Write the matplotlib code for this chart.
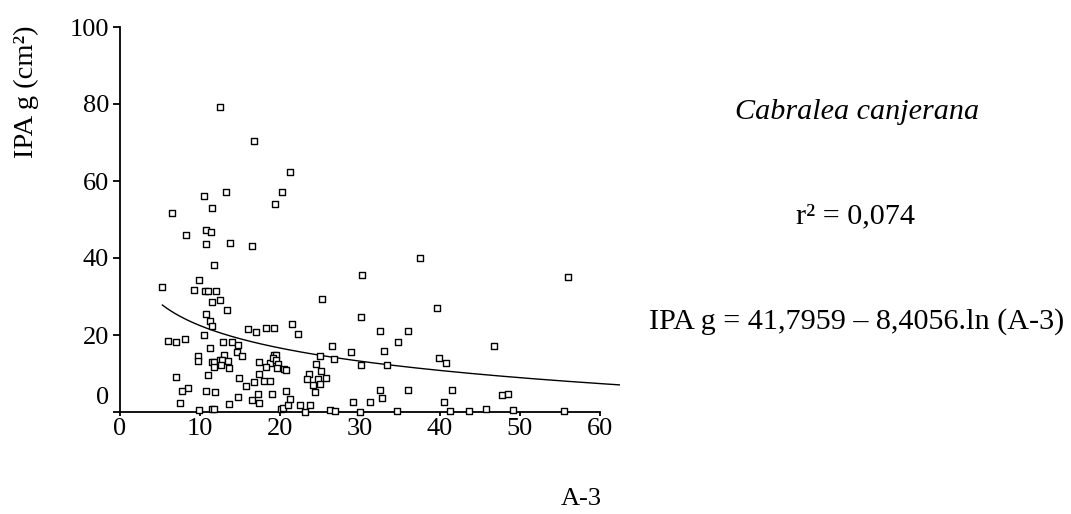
import numpy as np
import matplotlib
matplotlib.use("Agg")
import matplotlib.pyplot as plt
from matplotlib.transforms import ScaledTranslation

plt.rcParams['font.family'] = ['Liberation Serif', 'DejaVu Serif']

# data
a3 = [6.5, 11.5, 19.4, 8.25, 10.8, 11.4, 10.8, 13.75, 16.5, 11.7, 9.9, 5.3, 9.3, 10.6, 11.0, 12.0,
      12.5, 11.5, 13.4, 25.3, 10.7, 11.2, 11.5, 10.5, 16.0, 17.0, 18.2, 19.2, 21.5, 22.2, 6.0, 7.0,
      8.1, 12.9, 14.0, 14.8, 11.2, 14.6, 15.2, 9.8, 9.8, 13.0, 11.5, 11.75, 12.5, 12.8, 13.5, 11.7,
      12.6, 13.6, 17.4, 18.75, 19.2, 19.5, 19.1, 19.5, 18.2, 19.8, 19.6, 20.5, 20.8, 17.4, 14.9, 16.8,
      18.0, 18.75, 15.8, 7.0, 11.0, 8.5, 7.7, 10.8, 11.9, 7.5, 9.9, 11.5, 11.7, 13.6, 14.8, 16.5,
      17.2, 17.4, 19.0, 20.1, 20.4, 21.0, 21.3, 20.8, 22.5, 23.1, 23.75, 23.6, 23.4, 24.1, 24.4, 24.5,
      25.0, 25.1, 24.75, 25.0, 25.7, 26.5, 26.7, 26.3, 26.9, 28.9, 29.1,
      12.5, 16.7, 21.2, 10.5, 13.2, 20.3,
      37.5, 30.3, 56.0, 39.6, 30.1, 32.5, 36.0, 34.8, 46.7, 33.0, 30.1, 33.4, 39.9, 40.8, 32.5, 32.7,
      36.0, 41.5, 47.7, 48.45, 31.2, 40.5, 30.0, 34.6, 41.2, 43.6, 45.8, 49.1, 55.5]
ipa_g = [51.6, 53.0, 54.0, 46.1, 47.3, 46.8, 43.6, 44.0, 43.2, 38.3, 34.3, 32.5, 31.8, 31.5, 31.5, 31.5,
         29.0, 28.6, 26.5, 29.3, 25.4, 23.6, 22.4, 19.9, 21.5, 20.7, 21.7, 21.7, 22.8, 20.3, 18.5, 18.2,
         18.9, 18.2, 18.2, 17.5, 16.5, 15.7, 14.6, 14.5, 13.2, 14.9, 13.0, 12.9, 13.4, 13.4, 13.2, 11.7,
         12.1, 11.3, 13.1, 12.8, 14.8, 14.8, 13.9, 13.5, 11.6, 12.4, 11.3, 11.2, 11.0, 10.0, 8.8, 7.8,
         8.1, 8.1, 6.7, 9.2, 9.6, 6.3, 5.5, 5.5, 5.2, 2.3, 0.6, 0.9, 0.9, 2.1, 3.8, 3.1,
         4.8, 2.4, 4.6, 0.9, 1.1, 1.8, 3.5, 5.5, 1.7, 0.0, 1.7, 9.9, 8.5, 7.0, 5.3, 12.4,
         14.5, 10.6, 8.7, 7.4, 8.8, 17.1, 13.8, 0.5, 0.2, 15.5, 2.7,
         79.1, 70.5, 62.3, 56.2, 57.2, 57.2,
         40.0, 35.7, 35.0, 27.1, 24.6, 21.0, 21.0, 18.1, 17.1, 15.9, 12.1, 12.1, 13.9, 12.7, 5.6, 3.7,
         5.6, 5.6, 4.5, 4.8, 2.7, 2.7, 0.0, 0.3, 0.3, 0.3, 0.9, 0.6, 0.3]

# fitted trend: IPA g = b0 - b1 * ln(A-3)
b0, b1 = 41.7959, 8.4056
trend_range = (5.3, 62.5)

x_ticks = [0, 10, 20, 30, 40, 50, 60]
y_ticks = [0, 20, 40, 60, 80, 100]

fig = plt.figure(figsize=(10.71, 5.14), dpi=100)
ax = fig.add_axes([120/1071, 1-412/514, 500/1071, 385/514])

ax.scatter(a3, ipa_g, marker='s', s=20, facecolors='white', edgecolors='black',
           linewidths=1.0, clip_on=False, zorder=3)

xt = np.linspace(trend_range[0], trend_range[1], 300)
ax.plot(xt, b0 - b1*np.log(xt), color='black', lw=1.0, zorder=2)

ax.set_xlim(0, 62.5)
ax.set_ylim(0, 100)
ax.set_xticks(x_ticks)
ax.set_yticks(y_ticks)
ax.spines['top'].set_visible(False)
ax.spines['right'].set_visible(False)
ax.spines['bottom'].set_bounds(0, 60)
for s in ('left', 'bottom'):
    ax.spines[s].set_linewidth(1.3)
ax.tick_params(axis='y', direction='out', length=5, width=1.3, labelsize=19, pad=3)
ax.tick_params(axis='x', direction='out', length=3, width=1.3, labelsize=19, pad=1)

# the "0" label of the y axis sits higher than its tick
lbl0 = ax.get_yticklabels()[0]
lbl0.set_transform(lbl0.get_transform() + ScaledTranslation(0, 17/100, fig.dpi_scale_trans))

fig.text(26/1071, 1-92/514, 'IPA g (cm²)', rotation=90, ha='center', va='center', fontsize=20.5)
fig.text(581/1071, 1-499/514, 'A-3', ha='center', va='center', fontsize=19)

fig.text(857/1071, 1-112/514, 'Cabralea canjerana', style='italic', ha='center', va='center', fontsize=21.7)
fig.text(856/1071, 1-216/514, 'r² = 0,074', ha='center', va='center', fontsize=21.7)
fig.text(857/1071, 1-322/514, 'IPA g = 41,7959 – 8,4056.ln (A-3)', ha='center', va='center', fontsize=21.7)

fig.savefig('out.png', dpi=100)
